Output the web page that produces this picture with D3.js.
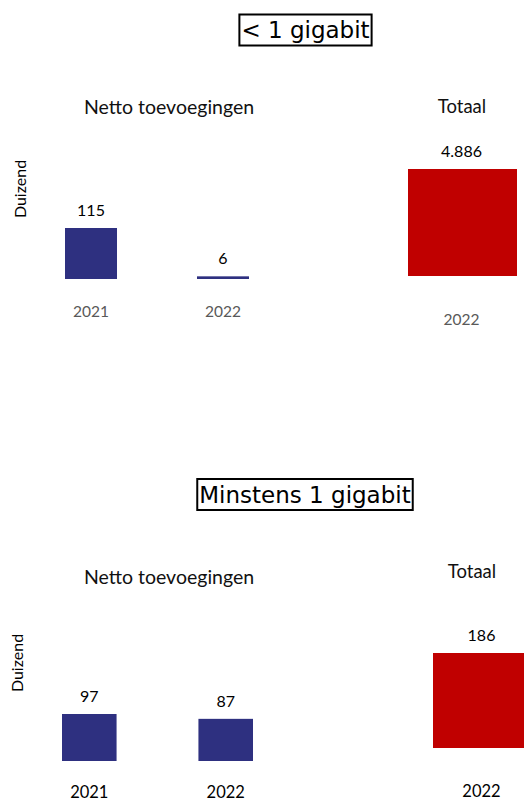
<!DOCTYPE html>
<html>
<head>
<meta charset="utf-8">
<script src="https://cdn.jsdelivr.net/npm/d3@7"></script>
<style>
  body { margin: 0; background: #fff; }
  svg { display: block; }
  .lbl { font-family: Lato, "Open Sans", sans-serif; }
  .title { font-family: "DejaVu Sans", Verdana, sans-serif; }
</style>
</head>
<body>
<svg id="chart" width="524" height="803"></svg>
<script>
// data
const years = ["2021", "2022"];
const totalYears = ["2022"];
const netBelow = [115, 6];      // < 1 gigabit, netto toevoegingen (duizend)
const netAbove = [97, 87];      // minstens 1 gigabit
const totalBelow = [4886];
const totalAbove = [186];
const titles = ["< 1 gigabit", "Minstens 1 gigabit"];

const nl = d3.formatLocale({ decimal: ",", thousands: ".", grouping: [3], currency: ["€", ""] });
const fmt = nl.format(",");

const svg = d3.select("#chart");
const navy = "#2E3080";
const red = "#C00000";

// draws one small bar panel
function panel(cfg) {
  const x = d3.scaleBand()
    .domain(cfg.cats)
    .range(cfg.xRange)
    .paddingInner(cfg.pad)
    .paddingOuter(0);
  const y = d3.scaleLinear()
    .domain([0, d3.max(cfg.values)])
    .range([cfg.base, cfg.top]);

  const rows = cfg.cats.map((c, i) => ({ cat: c, v: cfg.values[i] }));
  const g = svg.append("g");

  g.selectAll("rect")
    .data(rows)
    .enter()
    .append("rect")
    .attr("x", d => x(d.cat))
    .attr("width", x.bandwidth())
    .attr("y", d => y(d.v))
    .attr("height", d => y(0) - y(d.v))
    .attr("fill", cfg.color);

  g.selectAll("text.val")
    .data(rows)
    .enter()
    .append("text")
    .attr("class", "lbl val")
    .attr("x", d => x(d.cat) + x.bandwidth() / 2 + (cfg.valDx || 0))
    .attr("y", d => y(d.v) - 12)
    .attr("text-anchor", "middle")
    .attr("font-size", 16)
    .attr("fill", "#000")
    .text(d => fmt(d.v));

  // category axis, no line, just labels
  const ax = g.append("g")
    .attr("transform", "translate(" + (cfg.valDx || 0) + "," + cfg.axisY + ")")
    .call(d3.axisBottom(x).tickSize(0).tickPadding(0));
  ax.select(".domain").remove();
  ax.selectAll("text")
    .attr("class", "lbl")
    .attr("font-size", cfg.axisSize)
    .attr("fill", cfg.axisColor)
    .attr("dy", "0.35em");

  g.append("text")
    .attr("class", "lbl")
    .attr("x", cfg.headX)
    .attr("y", cfg.headY)
    .attr("text-anchor", "middle")
    .attr("dy", "0.35em")
    .attr("font-size", cfg.headSize)
    .attr("fill", "#111")
    .text(cfg.head);
}

function boxedTitle(text, cx, cy) {
  const t = svg.append("text")
    .attr("class", "title")
    .attr("x", cx)
    .attr("y", cy)
    .attr("text-anchor", "middle")
    .attr("dy", "0.36em")
    .attr("font-size", 23)
    .attr("fill", "#000")
    .text(text);
  const bb = t.node().getBBox();
  svg.insert("rect", "text")
    .attr("x", bb.x - 2)
    .attr("y", cy - 15.5)
    .attr("width", bb.width + 4)
    .attr("height", 31)
    .attr("fill", "none")
    .attr("stroke", "#000")
    .attr("stroke-width", 2);
}

function yTitle(x, y) {
  svg.append("text")
    .attr("class", "lbl")
    .attr("transform", "translate(" + x + "," + y + ") rotate(-90)")
    .attr("text-anchor", "middle")
    .attr("dy", "0.35em")
    .attr("font-size", 16)
    .attr("fill", "#000")
    .text("Duizend");
}

// top block
boxedTitle(titles[0], 305.5, 30);
yTitle(20, 189);
panel({ cats: years, values: netBelow, xRange: [65, 249], pad: 0.606, base: 279, top: 228,
        color: navy, axisY: 312, axisColor: "#595959", axisSize: 15.5,
        head: "Netto toevoegingen", headX: 169, headY: 107, headSize: 19.5 });
panel({ cats: totalYears, values: totalBelow, xRange: [408, 517], pad: 0, base: 276, top: 169,
        color: red, axisY: 320, axisColor: "#595959", axisSize: 15.5, valDx: -1,
        head: "Totaal", headX: 462, headY: 107, headSize: 18.5 });

// bottom block
boxedTitle(titles[1], 305, 494.5);
yTitle(17, 663);
panel({ cats: years, values: netAbove, xRange: [62, 253], pad: 0.6, base: 761, top: 714,
        color: navy, axisY: 792, axisColor: "#000", axisSize: 16.5,
        head: "Netto toevoegingen", headX: 169, headY: 577, headSize: 19.5 });
panel({ cats: totalYears, values: totalAbove, xRange: [433, 524], pad: 0, base: 748, top: 653,
        color: red, axisY: 791, axisColor: "#000", axisSize: 16.5, valDx: 3,
        head: "Totaal", headX: 472, headY: 572, headSize: 18.5 });
</script>
</body>
</html>
